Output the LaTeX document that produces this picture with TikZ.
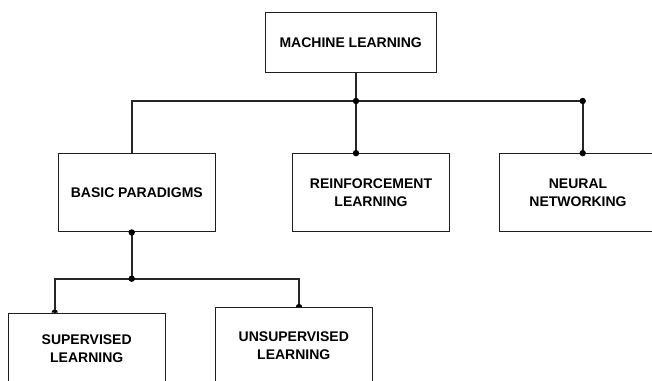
\documentclass[tikz,border=0pt]{standalone}
\usepackage{fontspec}
\setmainfont{Liberation Sans}
\begin{document}
\begin{tikzpicture}[x=1pt,y=-1pt,
  box/.style={draw=black!88,line width=1.3pt,fill=white,inner sep=0pt,
    minimum width=157pt,minimum height=78pt,align=center,
    font=\fontsize{14}{18}\selectfont\bfseries},
  conn/.style={draw=black!85,line width=1.6pt},
  dotc/.style={fill=black}]
\useasboundingbox (0,0) rectangle (652,380);
\clip (0,0) rectangle (652,380);
% boxes
\node[box,minimum width=171pt,minimum height=60pt] (ml) at (350.7,42.3) {MACHINE LEARNING};
\node[box] (bp) at (136.8,192.8) {BASIC PARADIGMS};
\node[box] (rl) at (371,192.8) {REINFORCEMENT\\LEARNING};
\node[box] (nn) at (578,192.8) {NEURAL\\NETWORKING};
\node[box,minimum height=70pt] (sl) at (86.7,348.3) {SUPERVISED\\LEARNING};
\node[box,minimum height=76pt] (ul) at (293.8,345.7) {UNSUPERVISED\\LEARNING};
% junction coordinates
\coordinate (j1) at (356,101);
\coordinate (tl) at (131.7,101);
\coordinate (j2) at (582.7,101);
\coordinate (bpd) at (131.7,231.7);
\coordinate (j3) at (131.7,278.7);
\coordinate (sa) at (54.7,278.7);
\coordinate (ua) at (299,278.7);
% connectors
\draw[conn] (j1 |- ml.south) -- (j1);
\draw[conn] (tl |- bp.north) -- (tl) -- (j2) -- (j2 |- nn.north);
\draw[conn] (j1) -- (j1 |- rl.north);
\draw[conn] (bpd |- bp.south) -- (j3);
\draw[conn] (sa |- sl.north) -- (sa) -- (ua) -- (ua |- ul.north);
% dots
\fill[dotc] (j1) circle (3.2);
\fill[dotc] (j2) circle (3.2);
\fill[dotc] (j1 |- rl.north) circle (3.2);
\fill[dotc] (j2 |- nn.north) circle (3.2);
\fill[dotc] (bpd |- bp.south) circle (3.2);
\fill[dotc] (j3) circle (3.2);
\fill[dotc] (sa |- sl.north) ++(-3.2,0) arc[start angle=180,end angle=360,radius=3.2] -- cycle;
\fill[dotc] (ua |- ul.north) ++(-3.2,0) arc[start angle=180,end angle=360,radius=3.2] -- cycle;
\end{tikzpicture}
\end{document}
